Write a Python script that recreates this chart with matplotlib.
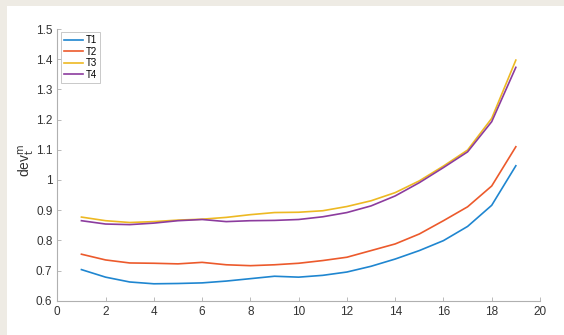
import matplotlib
matplotlib.use("Agg")
import matplotlib.pyplot as plt
from matplotlib.patches import Rectangle

plt.rcParams["font.family"] = ["Liberation Sans", "DejaVu Sans"]

steps = list(range(1, 20))
t1 = [0.703, 0.678, 0.662, 0.656, 0.657, 0.659, 0.665, 0.673, 0.681, 0.678,
      0.684, 0.695, 0.714, 0.738, 0.766, 0.799, 0.846, 0.916, 1.047]
t2 = [0.754, 0.735, 0.725, 0.724, 0.722, 0.727, 0.719, 0.716, 0.719, 0.724,
      0.733, 0.744, 0.766, 0.788, 0.821, 0.865, 0.911, 0.980, 1.110]
t3 = [0.877, 0.865, 0.859, 0.862, 0.867, 0.870, 0.876, 0.885, 0.892, 0.893,
      0.898, 0.912, 0.931, 0.958, 0.997, 1.046, 1.099, 1.204, 1.397]
t4 = [0.865, 0.854, 0.852, 0.857, 0.865, 0.869, 0.862, 0.865, 0.866, 0.869,
      0.878, 0.892, 0.914, 0.947, 0.991, 1.041, 1.093, 1.193, 1.373]
series_names = ["T1", "T2", "T3", "T4"]
colors = ["#1f86d0", "#EC5A2C", "#EDB923", "#8C3C9E"]

fig = plt.figure(figsize=(5.64, 3.35), dpi=100)
fig.patch.set_facecolor("#EEEBE4")
# white panel inside the beige frame
fig.patches.append(Rectangle((7 / 564, 0), 1, 1 - 6 / 335, transform=fig.transFigure,
                             facecolor="white", edgecolor="none", zorder=-5))

ax = fig.add_axes([0.1016, 0.1024, 0.8558, 0.811])
ax.set_zorder(2)
ax.set_facecolor("white")

for vals, name, c in zip([t1, t2, t3, t4], series_names, colors):
    ax.plot(steps, vals, color=c, lw=1.2, label=name)

ax.set_xlim(0, 20)
ax.set_ylim(0.6, 1.5)
ax.set_xticks(range(0, 21, 2))
yt = [0.6, 0.7, 0.8, 0.9, 1.0, 1.1, 1.2, 1.3, 1.4, 1.5]
ax.set_yticks(yt)
ax.set_yticklabels(["%g" % v for v in yt])

for s in ["top", "right"]:
    ax.spines[s].set_visible(False)
for s in ["left", "bottom"]:
    ax.spines[s].set_color("#b0b0b0")
    ax.spines[s].set_linewidth(0.8)
ax.tick_params(direction="in", length=3, width=0.6, color="#b0b0b0",
               labelsize=8.5, labelcolor="#333333")

ax.set_ylabel(r"dev$_\mathrm{t}^\mathrm{m}$", fontsize=10, color="#333333", labelpad=3)
ax.yaxis.set_label_coords(-0.042, 0.515)

leg = ax.legend(loc="upper left", fontsize=7, frameon=True, fancybox=False,
                handlelength=2.0, handletextpad=0.3, borderpad=0.3,
                labelspacing=0.15, borderaxespad=0.35)
leg.get_frame().set_edgecolor("#b0b0b0")
leg.get_frame().set_linewidth(0.6)

fig.savefig("out.png", dpi=100, facecolor=fig.get_facecolor())
